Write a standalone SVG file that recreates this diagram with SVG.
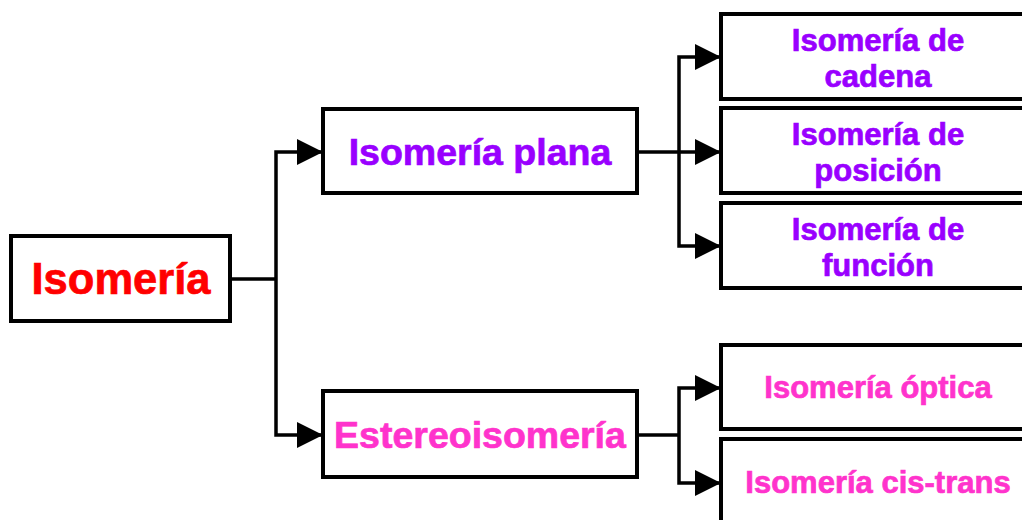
<svg xmlns="http://www.w3.org/2000/svg" width="1022" height="520" viewBox="0 0 1022 520">
<style>
.box{fill:#fff;stroke:#000;stroke-width:4}
.t{font-family:"Liberation Sans",Arial,sans-serif;font-weight:bold;text-anchor:middle;stroke-width:0.7}
.red{fill:#FF0000;stroke:#FF0000}
.pur{fill:#9900FF;stroke:#9900FF}
.pink{fill:#FF33CC;stroke:#FF33CC}
.c{fill:none;stroke:#000;stroke-width:3.5}
</style>
<defs>
<marker id="ah" markerUnits="userSpaceOnUse" markerWidth="28" markerHeight="28" refX="26" refY="13" orient="auto">
<path d="M0,0 L26,13 L0,26 Z" fill="#000"/>
</marker>
</defs>
<rect width="1022" height="520" fill="#fff"/>
<g id="connectors">
<path class="c" d="M230,279 H276"/>
<path class="c" d="M276,279 V152 H323" marker-end="url(#ah)"/>
<path class="c" d="M276,279 V435 H323" marker-end="url(#ah)"/>
<path class="c" d="M637,152 H721" marker-end="url(#ah)"/>
<path class="c" d="M679,152 V57 H721" marker-end="url(#ah)"/>
<path class="c" d="M679,152 V246 H721" marker-end="url(#ah)"/>
<path class="c" d="M637,435 H679"/>
<path class="c" d="M679,435 V388 H721" marker-end="url(#ah)"/>
<path class="c" d="M679,435 V483 H721" marker-end="url(#ah)"/>
</g>
<g id="isomeria">
<rect class="box" x="11" y="236" width="219" height="85"/>
<text class="t red" x="121" y="294" font-size="43.5">Isomería</text>
</g>
<g id="plana">
<rect class="box" x="323" y="109" width="314" height="84"/>
<text class="t pur" x="480" y="165" font-size="37.5">Isomería plana</text>
</g>
<g id="estereo">
<rect class="box" x="323" y="391" width="314" height="86"/>
<text class="t pink" x="480" y="448" font-size="37.5">Estereoisomería</text>
</g>
<g id="cadena">
<rect class="box" x="721" y="14" width="320" height="85"/>
<text class="t pur" x="878" y="51" font-size="31">Isomería de</text>
<text class="t pur" x="878" y="87" font-size="31">cadena</text>
</g>
<g id="posicion">
<rect class="box" x="721" y="108" width="320" height="85"/>
<text class="t pur" x="878" y="145" font-size="31">Isomería de</text>
<text class="t pur" x="878" y="181" font-size="31">posición</text>
</g>
<g id="funcion">
<rect class="box" x="721" y="203" width="320" height="85"/>
<text class="t pur" x="878" y="240" font-size="31">Isomería de</text>
<text class="t pur" x="878" y="276" font-size="31">función</text>
</g>
<g id="optica">
<rect class="box" x="721" y="345" width="320" height="84"/>
<text class="t pink" x="878" y="398" font-size="31">Isomería óptica</text>
</g>
<g id="cistrans">
<rect class="box" x="721" y="439" width="320" height="100"/>
<text class="t pink" x="878" y="493" font-size="31">Isomería cis-trans</text>
</g>
</svg>
